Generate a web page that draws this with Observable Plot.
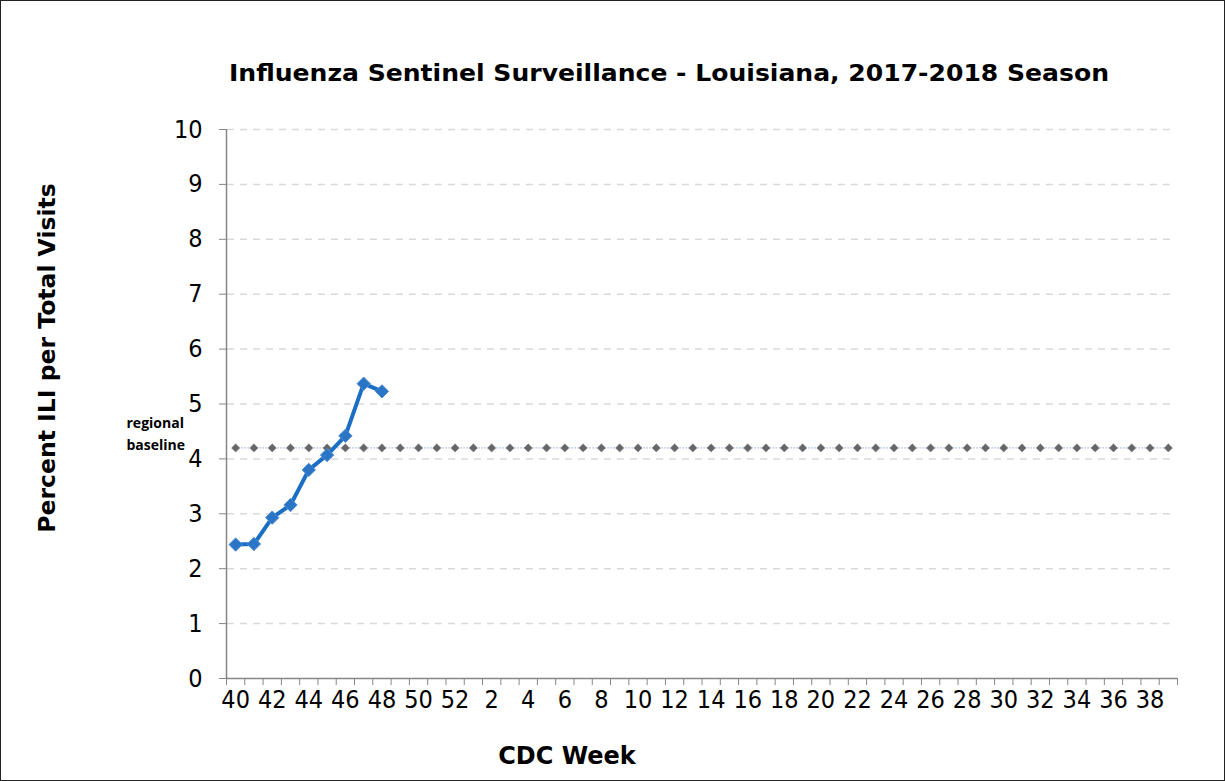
<!DOCTYPE html>
<html>
<head>
<meta charset="utf-8">
<script src="https://cdn.jsdelivr.net/npm/d3@7"></script>
<script src="https://cdn.jsdelivr.net/npm/@observablehq/plot@0.6"></script>
<style>
  html, body { margin: 0; padding: 0; background: #fff; }
  #wrap { position: relative; width: 1225px; height: 781px; overflow: hidden; }
  #border { position: absolute; left: 0; top: 0; width: 1225px; height: 781px; box-sizing: border-box; border: 1.5px solid #222; pointer-events: none; }
</style>
</head>
<body>
<div id="wrap"><div id="chart"></div><div id="border"></div></div>
<script>
// CDC weeks of the 2017-2018 season (categories)
const weeks = [40,41,42,43,44,45,46,47,48,49,50,51,52,1,2,3,4,5,6,7,8,9,10,11,12,13,14,15,16,17,18,19,20,21,22,23,24,25,26,27,28,29,30,31,32,33,34,35,36,37,38,39];
// Percent ILI per total visits (reported weeks only)
const iliWeeks = [40,41,42,43,44,45,46,47,48];
const iliValues = [2.44,2.45,2.93,3.16,3.80,4.07,4.42,5.37,5.23];
// Regional baseline value
const baselineValue = 4.2;
// Y tick values
const yTicks = [0,1,2,3,4,5,6,7,8,9,10];

const idx = w => weeks.indexOf(w);
const iliData = iliWeeks.map((w, i) => ({i: idx(w), v: iliValues[i]}));
const baseData = weeks.map((w, i) => ({i, v: baselineValue}));
const labelIdx = weeks.map((w, i) => i).filter(i => i % 2 === 0);
const boundaries = d3.range(0, weeks.length + 1).map(i => i - 0.5);

const tickFont = "'Liberation Sans Narrow', 'Arial Narrow', 'DejaVu Sans Condensed', sans-serif";
const boldFont = "'DejaVu Sans', Verdana, sans-serif";

const chart = Plot.plot({
  width: 1225,
  height: 781,
  marginLeft: 226,
  marginRight: 48,
  marginTop: 129,
  marginBottom: 103,
  style: {background: "transparent", fontFamily: tickFont, color: "black"},
  x: {type: "linear", domain: [-0.5, weeks.length - 0.5], axis: null},
  y: {domain: [0, 10], axis: null},
  marks: [
    // dashed gridlines
    Plot.ruleY(yTicks.filter(d => d > 0), {x1: -0.45, x2: weeks.length - 0.75, stroke: "#d9d9d9", strokeWidth: 1.5, strokeDasharray: "7,6"}),
    // axis lines
    Plot.ruleX([-0.5], {y1: 0, y2: 10, stroke: "#868686", strokeWidth: 1.5}),
    Plot.ruleY([0], {x1: -0.5, x2: weeks.length - 0.5, stroke: "#868686", strokeWidth: 1.5}),
    // y axis ticks and labels
    Plot.axisY(yTicks, {anchor: "left", tickSize: 7, tickPadding: 17, fontSize: 25, stroke: "#868686", fill: "black", tickFormat: d => String(d), label: null}),
    // x axis tick marks between categories
    Plot.axisX(boundaries, {anchor: "bottom", tickSize: 7, tickFormat: () => "", stroke: "#868686", label: null}),
    // x axis labels
    Plot.axisX(labelIdx, {anchor: "bottom", tickSize: 0, tickPadding: 12, fontSize: 25, fill: "black", tickFormat: i => String(weeks[i]), label: null}),
    // regional baseline
    Plot.line(baseData, {x: "i", y: "v", stroke: "#9fb4d8", strokeWidth: 1, strokeDasharray: "1,2"}),
    Plot.dot(baseData, {x: "i", y: "v", symbol: "diamond2", r: 3.7, fill: "#666666", stroke: "#777777", strokeWidth: 0.5}),
    // ILI series
    Plot.line(iliData, {x: "i", y: "v", stroke: "#1a6fc4", strokeWidth: 4}),
    Plot.dot(iliData, {x: "i", y: "v", symbol: "diamond2", r: 6, fill: "#2a75c6", stroke: "#4f8bd0", strokeWidth: 1}),
    // baseline label
    Plot.text(["regional"], {frameAnchor: "top-left", dx: -100, dy: 294, lineAnchor: "middle", fontSize: 14, fontWeight: "bold", textAnchor: "start", fontFamily: "'Open Sans', sans-serif"}),
    Plot.text(["baseline"], {frameAnchor: "top-left", dx: -100, dy: 316, lineAnchor: "middle", fontSize: 14, fontWeight: "bold", textAnchor: "start", fontFamily: "'Open Sans', sans-serif"}),
    // title
    Plot.text(["Influenza Sentinel Surveillance - Louisiana, 2017-2018 Season"], {frameAnchor: "top", dx: -33, dy: -56, lineAnchor: "middle", fontSize: 22.5, fontWeight: "bold", fontFamily: boldFont, className: "title-text"}),
    // y label
    Plot.text(["Percent ILI per Total Visits"], {frameAnchor: "left", dx: -179, dy: -46, rotate: -90, textAnchor: "middle", lineAnchor: "middle", fontSize: 23.5, fontWeight: "bold", fontFamily: boldFont}),
    // x label
    Plot.text(["CDC Week"], {frameAnchor: "bottom", dx: -135, dy: 78, lineAnchor: "middle", fontSize: 24, fontWeight: "bold", fontFamily: boldFont})
  ]
});
// stretch the title glyphs to the reference's wider bold face
d3.select(chart).selectAll(".title-text text")
  .attr("textLength", 880)
  .attr("lengthAdjust", "spacingAndGlyphs");
document.getElementById("chart").appendChild(chart);
</script>
</body>
</html>
